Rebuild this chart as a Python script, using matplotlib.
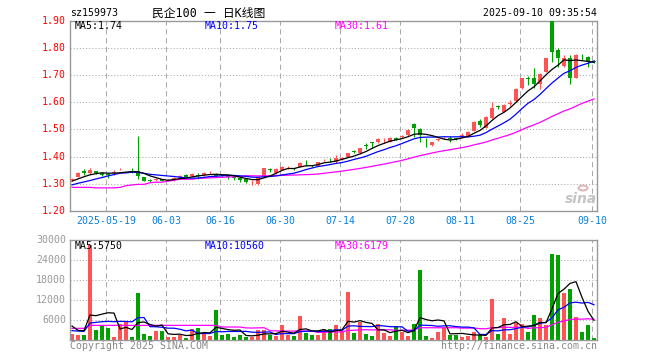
import matplotlib
matplotlib.use('Agg')
import matplotlib.pyplot as plt
import numpy as np
import pandas as pd

# ---------------- data ----------------
tick_index = [6, 16, 25, 35, 45, 55, 65, 75, 87]
tick_labels = ['2025-05-19', '06-03', '06-16', '06-30', '07-14', '07-28', '08-11', '08-25', '09-10']

opens = [1.315, 1.325, 1.346, 1.339, 1.347, 1.340, 1.336, 1.339, 1.354, 1.349,
         1.346, 1.347, 1.325, 1.314, 1.314, 1.316, 1.312, 1.313, 1.326, 1.334,
         1.329, 1.333, 1.332, 1.339, 1.337, 1.331, 1.328, 1.326, 1.322, 1.317,
         1.305, 1.300, 1.327, 1.353, 1.340, 1.351, 1.358, 1.358, 1.363, 1.378,
         1.366, 1.366, 1.387, 1.392, 1.379, 1.391, 1.400, 1.420, 1.413, 1.442,
         1.452, 1.455, 1.456, 1.455, 1.470, 1.474, 1.480, 1.520, 1.502, 1.455,
         1.441, 1.462, 1.468, 1.470, 1.467, 1.474, 1.474, 1.495, 1.531, 1.507,
         1.541, 1.588, 1.566, 1.594, 1.605, 1.651, 1.688, 1.691, 1.667, 1.713,
         1.905, 1.792, 1.735, 1.762, 1.691, 1.775, 1.768, 1.752]
highs = [1.322, 1.342, 1.353, 1.358, 1.348, 1.341, 1.338, 1.350, 1.359, 1.351,
         1.357, 1.477, 1.326, 1.317, 1.322, 1.318, 1.316, 1.324, 1.333, 1.335,
         1.340, 1.338, 1.343, 1.346, 1.338, 1.332, 1.330, 1.328, 1.325, 1.319,
         1.315, 1.326, 1.359, 1.357, 1.359, 1.365, 1.365, 1.360, 1.380, 1.388,
         1.368, 1.382, 1.392, 1.396, 1.406, 1.398, 1.413, 1.425, 1.432, 1.450,
         1.453, 1.470, 1.468, 1.473, 1.474, 1.478, 1.500, 1.522, 1.505, 1.468,
         1.455, 1.470, 1.472, 1.477, 1.470, 1.486, 1.495, 1.531, 1.539, 1.550,
         1.600, 1.590, 1.593, 1.609, 1.652, 1.690, 1.695, 1.725, 1.706, 1.764,
         1.920, 1.798, 1.775, 1.772, 1.776, 1.779, 1.770, 1.754]
lows = [1.310, 1.324, 1.334, 1.335, 1.337, 1.327, 1.320, 1.333, 1.351, 1.349,
        1.339, 1.317, 1.309, 1.308, 1.311, 1.310, 1.311, 1.312, 1.322, 1.325,
        1.328, 1.316, 1.329, 1.336, 1.326, 1.328, 1.318, 1.315, 1.307, 1.303,
        1.296, 1.297, 1.325, 1.345, 1.337, 1.350, 1.355, 1.350, 1.362, 1.365,
        1.362, 1.365, 1.383, 1.382, 1.377, 1.389, 1.398, 1.412, 1.410, 1.428,
        1.433, 1.449, 1.450, 1.454, 1.460, 1.467, 1.475, 1.474, 1.455, 1.437,
        1.438, 1.458, 1.466, 1.455, 1.460, 1.470, 1.472, 1.493, 1.510, 1.505,
        1.539, 1.575, 1.563, 1.588, 1.602, 1.648, 1.664, 1.654, 1.649, 1.710,
        1.749, 1.731, 1.728, 1.666, 1.688, 1.756, 1.731, 1.745]
closes = [1.318, 1.341, 1.340, 1.350, 1.338, 1.334, 1.333, 1.342, 1.356, 1.350,
          1.344, 1.330, 1.311, 1.311, 1.318, 1.312, 1.314, 1.323, 1.329, 1.326,
          1.336, 1.330, 1.338, 1.341, 1.330, 1.329, 1.326, 1.323, 1.315, 1.306,
          1.308, 1.324, 1.357, 1.350, 1.353, 1.363, 1.360, 1.355, 1.378, 1.376,
          1.364, 1.380, 1.389, 1.390, 1.396, 1.394, 1.412, 1.418, 1.430, 1.440,
          1.451, 1.464, 1.459, 1.470, 1.463, 1.476, 1.498, 1.504, 1.480, 1.452,
          1.453, 1.466, 1.470, 1.465, 1.464, 1.480, 1.492, 1.529, 1.517, 1.547,
          1.580, 1.581, 1.590, 1.597, 1.649, 1.688, 1.685, 1.666, 1.704, 1.762,
          1.786, 1.764, 1.764, 1.691, 1.772, 1.774, 1.750, 1.747]
volumes = [1810, 1410, 1410, 28500, 2910, 4110, 3510, 910, 4710, 5310,
           810, 14010, 1710, 1110, 2610, 2610, 810, 810, 1510, 510,
           3110, 3610, 1910, 1110, 8910, 1410, 1810, 910, 1410, 810,
           810, 2810, 2810, 1510, 1210, 4410, 1410, 1210, 7110, 2110,
           1310, 1510, 3210, 3210, 4310, 2610, 14310, 2010, 5310, 1710,
           1110, 4610, 2010, 1110, 4010, 2410, 1110, 4710, 20910, 1110,
           510, 2310, 3410, 1410, 1410, 910, 1110, 2310, 1310, 810,
           12110, 1710, 6510, 1710, 4910, 4810, 2410, 7410, 6510, 4310,
           25710, 25310, 14010, 15110, 6910, 2210, 4410, 400]

price_ma5_head = [1.310, 1.318, 1.326, 1.333]
price_ma10_head = [1.296, 1.302, 1.307, 1.312, 1.318, 1.323, 1.329, 1.334, 1.339]
price_ma30_head = [1.287, 1.287, 1.287, 1.287, 1.285, 1.285, 1.285, 1.285, 1.287, 1.293,
                   1.296, 1.298, 1.298, 1.304, 1.306, 1.306, 1.310, 1.313, 1.317, 1.317,
                   1.317, 1.320, 1.321, 1.322, 1.323, 1.324, 1.325, 1.326, 1.327]
vol_ma5_head = [4100, 2800, 2700, 7400]
vol_ma10_head = [2700, 2600, 2500, 5000, 5200, 5400, 5500, 5400, 5500]
vol_ma30_head = [3410, 3410, 3410, 4300, 4300, 4300, 4300, 4300, 4300, 4300,
                 4300, 4300, 4300, 4300, 4300, 4300, 4300, 4300, 4300, 4300,
                 4300, 4300, 4300, 4300, 4300, 3800, 3800, 3800, 3800]

price_labels = ['MA5:1.74', 'MA10:1.75', 'MA30:1.61']
vol_labels = ['MA5:5750', 'MA10:10560', 'MA30:6179']
price_ticks = [1.20, 1.30, 1.40, 1.50, 1.60, 1.70, 1.80, 1.90]
vol_ticks = [6000, 12000, 18000, 24000, 30000]

# ---------------- helpers ----------------
W, H = 660, 360
def fx(px):
    return px / W
def fy(py):
    return 1 - py / H

def moving(values, n, head):
    s = pd.Series(values, dtype=float).rolling(n).mean().to_numpy()
    s[:n - 1] = head
    return s

RED = '#ff5454'
GREEN = '#00a000'
GRID = '#aaaaaa'
FRAME = '#999999'
MONO = 'DejaVu Sans Mono'
FS = 7.1

x = np.arange(len(closes))
o = np.array(opens); c = np.array(closes); h = np.array(highs); l = np.array(lows)
v = np.array(volumes)
up = c >= o
colors = np.where(up, RED, GREEN)

fig = plt.figure(figsize=(6.6, 3.6), dpi=100)
fig.patch.set_facecolor('white')

L, R = 70, 597
ax = fig.add_axes([fx(L), fy(211), (R - L) / W, (211 - 20.7) / H])
axv = fig.add_axes([fx(L), fy(339.7), (R - L) / W, 100 / H])

xlim = (-1 / 3, 87.5)
for a in (ax, axv):
    a.set_xlim(*xlim)
    a.set_xticks([])
    a.set_yticks([])
    for s in a.spines.values():
        s.set_color(FRAME)
        s.set_linewidth(1.0)
    for t in tick_index:
        a.axvline(t - 1 / 3, color=GRID, lw=0.75, ls=(0, (5, 3.5)), zorder=0)

ax.set_ylim(1.20, 1.90)
axv.set_ylim(0, 30000)
for p in price_ticks[1:-1]:
    ax.axhline(p, color=GRID, lw=0.75, ls=(0, (1, 2)), zorder=0)
for q in vol_ticks[:-1]:
    axv.axhline(q, color=GRID, lw=0.75, ls=(0, (1, 2)), zorder=0)

# candles
bw = 0.8
ax.vlines(x, l, h, colors=colors, lw=0.8, zorder=2)
body_low = np.minimum(o, c)
body_h = np.maximum(np.abs(c - o), 0.0015)
ax.bar(x, body_h, bottom=body_low, width=bw, color=colors, linewidth=0, zorder=3)

# price MAs
ax.plot(x, moving(closes, 30, price_ma30_head), color='#ff00ff', lw=0.9, zorder=4)
ax.plot(x, moving(closes, 10, price_ma10_head), color='#0000ff', lw=0.9, zorder=4)
ax.plot(x, moving(closes, 5, price_ma5_head), color='black', lw=0.9, zorder=4)

# volume
axv.bar(x, v, width=bw, color=colors, linewidth=0, zorder=2)
axv.plot(x, moving(volumes, 30, vol_ma30_head), color='#ff00ff', lw=0.9, zorder=4)
axv.plot(x, moving(volumes, 10, vol_ma10_head), color='#0000ff', lw=0.9, zorder=4)
axv.plot(x, moving(volumes, 5, vol_ma5_head), color='black', lw=0.9, zorder=4)

# price tick labels (red)
for p in price_ticks:
    py = 20.7 + (1.90 - p) / 0.70 * (211 - 20.7)
    fig.text(fx(66), fy(py), f'{p:.2f}', color='#ff0000', fontsize=FS, family=MONO,
             ha='right', va='center')
for q in vol_ticks:
    py = 339.7 - q / 30000 * 100
    fig.text(fx(66), fy(py), f'{q}', color='#999999', fontsize=FS, family=MONO,
             ha='right', va='center')

# date labels
for t, lab in zip(tick_index, tick_labels):
    px = 72 + 6 * (t - 1 / 3)
    fig.text(fx(px), fy(221), lab, color='#0a7fd8', fontsize=FS, family=MONO,
             ha='center', va='center')

# titles
fig.text(fx(70), fy(13), 'sz159973', color='black', fontsize=FS, family=MONO,
         ha='left', va='center')
fig.text(fx(209), fy(13), '民企100 一 日K线图', color='black', fontsize=8.5,
         family=['DejaVu Sans Mono', 'Noto Sans CJK SC'], ha='center', va='center')
fig.text(fx(597), fy(13), '2025-09-10 09:35:54', color='black', fontsize=FS, family=MONO,
         ha='right', va='center')

# MA labels
ma_cols = ['black', '#0000ff', '#ff00ff']
ma_x = [75, 205, 335]
for lab, col, px in zip(price_labels, ma_cols, ma_x):
    fig.text(fx(px), fy(26.3), lab, color=col, fontsize=FS, family=MONO, ha='left', va='center')
for lab, col, px in zip(vol_labels, ma_cols, ma_x):
    fig.text(fx(px), fy(246), lab, color=col, fontsize=FS, family=MONO, ha='left', va='center')

# footer
fig.text(fx(70), fy(346), 'Copyright 2025 SINA.COM', color='#888888', fontsize=FS,
         family=MONO, ha='left', va='center')
fig.text(fx(597), fy(346), 'http://finance.sina.com.cn', color='#888888', fontsize=FS,
         family=MONO, ha='right', va='center')

# sina watermark
fig.text(fx(581), fy(199), 'sina', color='#c4c4c4', fontsize=10, fontweight='bold',
         fontstyle='italic', family='DejaVu Sans', ha='center', va='center')
fig.patches.append(plt.Circle((fx(583), fy(188)), 4.5 / W, transform=fig.transFigure,
                              fill=False, ec='#e0b8b8', lw=1.5))

fig.savefig('out.png', dpi=100, facecolor='white')
